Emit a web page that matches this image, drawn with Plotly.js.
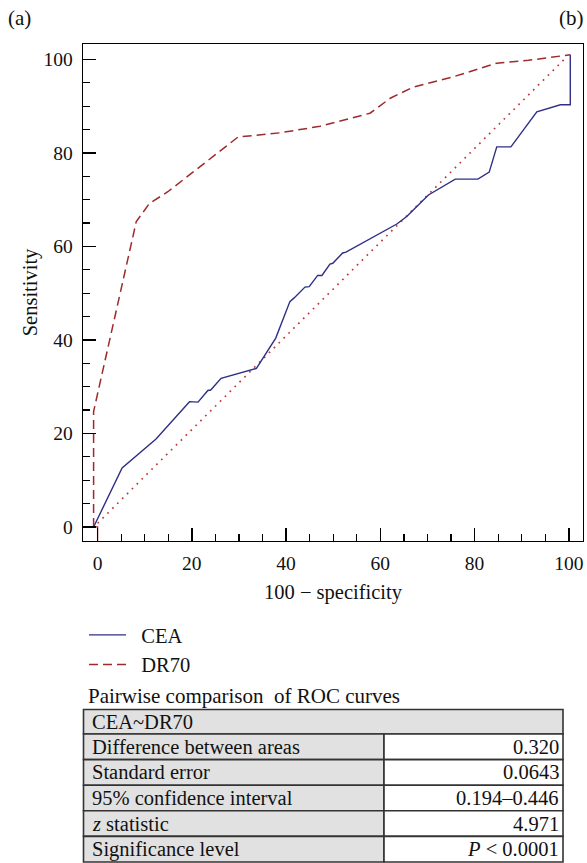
<!DOCTYPE html>
<html>
<head>
<meta charset="utf-8">
<script src="https://cdn.plot.ly/plotly-3.0.1.min.js"></script>
<style>
html,body{margin:0;padding:0;background:#fff;}
#chart{width:587px;height:863px;}
</style>
</head>
<body>
<div id="chart"></div>
<script>
// ---- data ----
const ceaX = [-0.85, 5.2, 12.4, 19.5, 21.3, 23.4, 24.0, 26.2, 33.7, 37.8, 40.8, 41.7, 44.0, 44.9, 46.7, 47.6, 49.3, 49.9, 52.0, 52.7, 63.5, 65.6, 70.2, 75.9, 80.7, 83.1, 84.7, 87.7, 93.2, 93.9, 98.2, 100.3, 100.3];
const ceaY = [0, 12.6, 18.8, 26.8, 26.7, 29.2, 29.3, 31.8, 33.9, 40.4, 48.2, 49.0, 51.3, 51.4, 53.8, 53.8, 56.2, 56.4, 58.6, 58.8, 64.8, 66.4, 71.0, 74.4, 74.4, 75.9, 81.3, 81.3, 88.8, 89.0, 90.3, 90.3, 101.0];
const drX = [-0.85, -0.85, 8.2, 11.0, 14.9, 29.8, 38.7, 47.2, 57.8, 62.1, 67.0, 75.5, 84.7, 88.5, 91.4, 100.3];
const drY = [0, 24.7, 65.3, 69.2, 71.7, 83.4, 84.3, 85.7, 88.5, 91.7, 94.1, 96.3, 99.2, 99.5, 99.8, 101.0];
const diagX = [0, 99.5];
const diagY = [0.8, 100.5];
const boxX = [-3.1, 0, 0];
const boxY = [0, 0, -3.1];
const seriesNames = ["CEA", "DR70"];
const xTitle = "100 \u2212 specificity";
const yTitle = "Sensitivity";
const tableTitle = "Pairwise comparison\u00a0 of ROC curves";
const tableHeader = "CEA~DR70";
const rowLabels = ["Difference between areas", "Standard error", "95% confidence interval", "<i>z</i> statistic", "Significance level"];
const rowValues = ["0.320", "0.0643", "0.194\u20130.446", "4.971", "<i>P</i> < 0.0001"];
const panelLabels = ["(a)", "(b)"];

// ---- styling / geometry ----
const FONT = "Liberation Serif";
const CEA_COLOR = "#2e2f85";
const DR_COLOR = "#9e2a2b";
const L = 83, T = 44, W = 500, H = 497;
const px = x => (x - L) / W;
const py = y => (T + H - y) / H;
const legendPad = "\u00a0\u00a0";

const traces = [
  {x: diagX, y: diagY, mode: "lines", showlegend: false, hoverinfo: "skip",
   line: {color: "#c0393b", width: 1.7, dash: "1.7px,5.2px"}},
  {x: boxX, y: boxY, mode: "lines", showlegend: false, hoverinfo: "skip",
   line: {color: DR_COLOR, width: 1.3}},
  {x: ceaX, y: ceaY, name: legendPad + seriesNames[0], mode: "lines",
   line: {color: CEA_COLOR, width: 1.4}},
  {x: drX, y: drY, name: legendPad + seriesNames[1], mode: "lines",
   line: {color: DR_COLOR, width: 1.5, dash: "9px,5px"}}
];

const shapes = [];
const annotations = [];
const tL = 83.5, tR = 563, tMid = 384, tTop = 709.5, hBot = 734, rowH = 25.6;
const border = {color: "#333", width: 1.6};
shapes.push({type: "rect", xref: "paper", yref: "paper", x0: px(tL), x1: px(tR), y0: py(tTop), y1: py(hBot),
  fillcolor: "#e1e1e1", line: border, layer: "above"});
annotations.push({xref: "paper", yref: "paper", x: px(tL + 6), y: py((tTop + hBot) / 2), text: tableHeader,
  showarrow: false, xanchor: "left", yanchor: "middle", font: {family: FONT, size: 20.5, color: "#111"}});
rowLabels.forEach((lab, i) => {
  const top = hBot + i * rowH, bot = top + rowH, mid = (top + bot) / 2;
  shapes.push({type: "rect", xref: "paper", yref: "paper", x0: px(tL), x1: px(tMid), y0: py(top), y1: py(bot),
    fillcolor: "#e1e1e1", line: border, layer: "above"});
  shapes.push({type: "rect", xref: "paper", yref: "paper", x0: px(tMid), x1: px(tR), y0: py(top), y1: py(bot),
    fillcolor: "#ffffff", line: border, layer: "above"});
  annotations.push({xref: "paper", yref: "paper", x: px(tL + 6), y: py(mid), text: lab,
    showarrow: false, xanchor: "left", yanchor: "middle", font: {family: FONT, size: 20.5, color: "#111"}});
  annotations.push({xref: "paper", yref: "paper", x: px(tR - 2), y: py(mid), text: rowValues[i],
    showarrow: false, xanchor: "right", yanchor: "middle", font: {family: FONT, size: 20.5, color: "#111"}});
});
annotations.push({xref: "paper", yref: "paper", x: px(86), y: py(696), text: tableTitle,
  showarrow: false, xanchor: "left", yanchor: "middle", font: {family: FONT, size: 21, color: "#111"}});
annotations.push({xref: "paper", yref: "paper", x: px(6), y: py(18), text: panelLabels[0],
  showarrow: false, xanchor: "left", yanchor: "middle", font: {family: FONT, size: 21, color: "#111"}});
annotations.push({xref: "paper", yref: "paper", x: px(586), y: py(18), text: panelLabels[1],
  showarrow: false, xanchor: "right", yanchor: "middle", font: {family: FONT, size: 21, color: "#111"}});

const axisCommon = {
  showgrid: false, zeroline: false, showline: true, linecolor: "#000", linewidth: 1.4, mirror: true,
  ticks: "inside", ticklen: 13, tickwidth: 1.4, tickcolor: "#000", dtick: 20, tick0: 0,
  minor: {dtick: 5, tick0: 0, ticks: "inside", ticklen: 7, tickwidth: 1.2, tickcolor: "#000"},
  tickfont: {family: FONT, size: 19.5, color: "#111"}, fixedrange: true
};

const layout = {
  width: 587, height: 863,
  font: {family: FONT, color: "#111"},
  margin: {l: L, r: 587 - L - W, t: T, b: 863 - T - H, pad: 0},
  paper_bgcolor: "#fff", plot_bgcolor: "#fff",
  showlegend: true,
  legend: {x: px(84), y: py(615), xanchor: "left", yanchor: "top", bgcolor: "rgba(0,0,0,0)",
    font: {family: FONT, size: 20.5, color: "#111"}, itemwidth: 37, tracegroupgap: 0},
  xaxis: Object.assign({}, axisCommon, {range: [-3.1, 103.0], ticklabelstandoff: 4,
    title: {text: xTitle, font: {family: FONT, size: 20.5, color: "#111"}, standoff: 12}}),
  yaxis: Object.assign({}, axisCommon, {range: [-3.0, 103.3], ticklabelstandoff: 5,
    title: {text: yTitle, font: {family: FONT, size: 20.5, color: "#111"}, standoff: 0}}),
  shapes: shapes,
  annotations: annotations
};

Plotly.newPlot("chart", traces, layout, {displayModeBar: false, staticPlot: true});
</script>
</body>
</html>
